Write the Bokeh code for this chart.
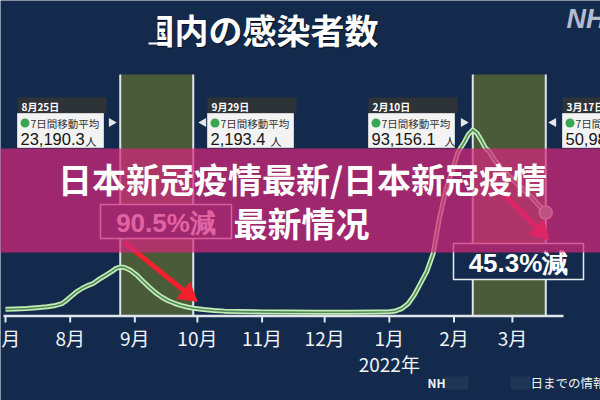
import math
from bokeh.plotting import figure
from bokeh.models import Range1d
from bokeh.core.properties import value
from bokeh.embed import file_html
from bokeh.resources import INLINE

# ---------------- data ----------------
# days since 2021-07-01 and 7-day moving average of new cases
day_index = [0, 5, 10, 15, 20, 24, 27, 29, 31, 34, 37, 40, 42, 45, 48, 51, 53, 55, 57, 60,
             63, 66, 69, 72, 75, 78, 81, 84, 87, 90, 95, 100, 105, 112, 123, 135, 150, 165, 178, 184,
             187, 190, 193, 196, 199, 202, 205, 208, 211, 214, 217, 220, 222, 224, 226, 228, 230, 232, 235, 238,
             241, 244, 248, 252, 255, 259]
avg_cases = [1600, 1750, 2000, 2400, 2900, 3600, 4500, 6000, 7800, 10500, 12500, 14000, 14800, 17000, 19000, 21000, 22500, 23190, 23000, 21500,
             19000, 15800, 12800, 10000, 7800, 6000, 4700, 3600, 2800, 2193, 1500, 1000, 700, 450, 300, 200, 150, 160, 250, 400,
             800, 2000, 4500, 9000, 15000, 21000, 30000, 48000, 62000, 72000, 82000, 87000, 91000, 93156, 91500, 88000, 84000, 82000, 77000, 73000,
             70000, 67000, 63000, 59000, 55500, 50984]

tick_days = [0, 31, 62, 92, 123, 153, 184, 215, 243]
tick_labels = ["7月", "8月", "9月", "10月", "11月", "12月", "1月", "2月", "3月"]
year_label = "2022年"
year_day = 184

period_start = [55, 224]   # 8/25, 2/10
period_end = [90, 259]     # 9/29, 3/17

box_dates = ["8月25日", "9月29日", "2月10日", "3月17日"]
box_values = ["23,190.3", "2,193.4", "93,156.1", "50,984.1"]
box_caption = "7日間移動平均"
box_unit = "人"
change_labels = ["90.5%減", "45.3%減"]

title_text = "国内の感染者数"
logo_text = "NHK"
banner_lines = ["日本新冠疫情最新/日本新冠疫情", "最新情况"]
source_left = "NH"
source_right = "日までの情報"

# ---------------- layout ----------------
W, H = 600, 400
PX_PER_DAY = 2.086
X0_PX = 5.0
ZERO_PX = 312.0
PX_PER_CASE = 0.00196
xr = (-X0_PX / PX_PER_DAY, (W - X0_PX) / PX_PER_DAY)
yr = (-(H - ZERO_PX) / PX_PER_CASE, ZERO_PX / PX_PER_CASE)


def X(px):
    return xr[0] + px / W * (xr[1] - xr[0])


def Y(py):
    return yr[1] - py / H * (yr[1] - yr[0])


BG = "#132a4c"
BAND = "#4a5b39"
EDGE = "#dfe5ea"
HEADER = "#2e3338"
BODY = "#f3f3f3"
DOT = "#3aa552"
RED = "#f0202c"
JP = "Noto Sans CJK JP"
SC = "Noto Sans CJK SC"
LAT = "Liberation Sans"

p = figure(width=W, height=H, x_range=Range1d(*xr), y_range=Range1d(*yr),
           toolbar_location=None, output_backend="svg", x_axis_type=None, y_axis_type=None,
           min_border=0, min_border_left=0, min_border_right=0, min_border_top=0, min_border_bottom=0,
           background_fill_color=BG, border_fill_color=BG, outline_line_color=None)
p.grid.visible = False


def txt(x, y, s, size, color, font=JP, style="normal", align="left", baseline="middle", alpha=1.0):
    p.text(x=x, y=y, text=s, text_font=value(font), text_font_size=size, text_color=color,
           text_font_style=style, text_align=align, text_baseline=baseline, text_alpha=alpha)


def pquad(x0, x1, y0, y1, fill, line=None, lw=1.0, alpha=1.0):
    p.quad(left=[X(x0)], right=[X(x1)], top=[Y(y0)], bottom=[Y(y1)], fill_color=fill,
           fill_alpha=alpha, line_color=line, line_width=lw)


# highlighted periods
BAND_TOP, AXIS_Y = 74, 315.5
p.quad(left=period_start, right=period_end, top=Y(BAND_TOP), bottom=Y(AXIS_Y),
       fill_color=BAND, line_color=None)
edges = period_start + period_end
p.segment(x0=edges, x1=edges, y0=[Y(BAND_TOP)] * 4, y1=[Y(AXIS_Y)] * 4, line_color=EDGE, line_width=2)

# x axis
p.segment(x0=[X(3)], x1=[X(563)], y0=[Y(AXIS_Y)], y1=[Y(AXIS_Y)], line_color=EDGE, line_width=2.5)
p.segment(x0=tick_days, x1=tick_days, y0=[Y(AXIS_Y)] * len(tick_days), y1=[Y(322)] * len(tick_days),
          line_color=EDGE, line_width=2)
txt(tick_days, [Y(337)] * len(tick_days), tick_labels, "19px", "#f2f4f6", align="center")
txt([year_day], [Y(363)], [year_label], "19px", "#f2f4f6", align="center")

# curve
p.line(day_index, avg_cases, line_width=5, line_color="#c4ecb4", line_join="round")
p.line(day_index, avg_cases, line_width=1.6, line_color="#4f8a5c", line_join="round")
p.scatter(x=[day_index[-1]], y=[avg_cases[-1]], size=13, fill_color="#7fbf8a",
          line_color="#d5efd0", line_width=1.5)

# info boxes
box_left = [17, 207, 368, 562]
pointer_x = [111, 203, 463, 553]
pointer_angle = [-math.pi / 2, math.pi / 2, -math.pi / 2, math.pi / 2]
unit_x = [85, 270, 444, 660]
for i in range(4):
    bx = box_left[i]
    pquad(bx, bx + 89, 97, 113, HEADER)
    pquad(bx, bx + 86, 113, 147, BODY, line="#cfd3d6", lw=1)
    txt([X(bx + 4)], [Y(105.5)], [box_dates[i]], "10px", "#ffffff", style="bold")
    p.scatter(x=[X(bx + 7.5)], y=[Y(122.5)], size=9, fill_color=DOT, line_color=None)
    txt([X(bx + 13)], [Y(123)], [box_caption], "10.5px", "#333333")
    txt([X(bx + 3)], [Y(138)], [box_values[i]], "16.5px", "#151515", font=LAT)
    txt([X(unit_x[i])], [Y(140)], [box_unit], "11px", "#151515")
    p.scatter(x=[X(pointer_x[i])], y=[Y(122)], marker="triangle", size=9, angle=pointer_angle[i],
              fill_color="#e6e8ea", line_color=None)

# title
txt([X(141)], [Y(30)], [title_text], "34px", "#000000", style="bold", alpha=0.6)
txt([X(140)], [Y(29)], [title_text], "34px", "#ffffff", style="bold")
pquad(130, 157, 8, 50, BG)
p.segment(x0=[X(148)], x1=[X(158)], y0=[Y(43)], y1=[Y(43)], line_color="#ffffff", line_width=2)

# logo
txt([X(566)], [Y(18)], [logo_text], "27px", "#b4bccb", font=LAT, style="bold italic")

# source line
txt([X(427)], [Y(382)], [source_left], "12px", "#f2f4f6", style="bold")
pquad(442, 468, 376, 389, "#ffffff", alpha=0.06)
pquad(510, 530, 376, 389, "#ffffff", alpha=0.06)
txt([X(530)], [Y(382)], [source_right], "12.5px", "#f2f4f6")

# change boxes
change_box = [(100, 231, 204, 238), (453, 583, 243, 279)]
for (x0, x1, y0, y1), lab in zip(change_box, change_labels):
    pquad(x0, x1, y0, y1, BG, line="#e8ecef", lw=1.5)
    txt([X((x0 + x1) / 2)], [Y((y0 + y1) / 2 + 1)], [lab], "26px", "#ffffff", font=LAT, style="bold",
        align="center")


# red arrows
def arrow(x0, y0, x1, y1):
    dx, dy = x1 - x0, y1 - y0
    L = math.hypot(dx, dy)
    ux, uy = dx / L, dy / L
    p.line([X(x0), X(x1 - ux * 10)], [Y(y0), Y(y1 - uy * 10)], line_color=RED, line_width=5)
    ang = math.atan2(-dy, dx) - math.pi / 2
    p.scatter(x=[X(x1 - ux * 7)], y=[Y(y1 - uy * 7)], marker="triangle", size=22, angle=ang,
              fill_color=RED, line_color=None)


arrow(124, 242, 193, 298)
arrow(488, 178, 545, 236)

# banner overlay
pquad(-5, 605, 148, 252, "#d6277b", alpha=0.72)
txt([X(302)], [Y(178)], [banner_lines[0]], "34px", "#ffffff", font=SC, style="bold", align="center")
txt([X(233)], [Y(222)], [banner_lines[1]], "34px", "#ffffff", font=SC, style="bold")

open("out.html", "w").write(file_html(p, INLINE))
